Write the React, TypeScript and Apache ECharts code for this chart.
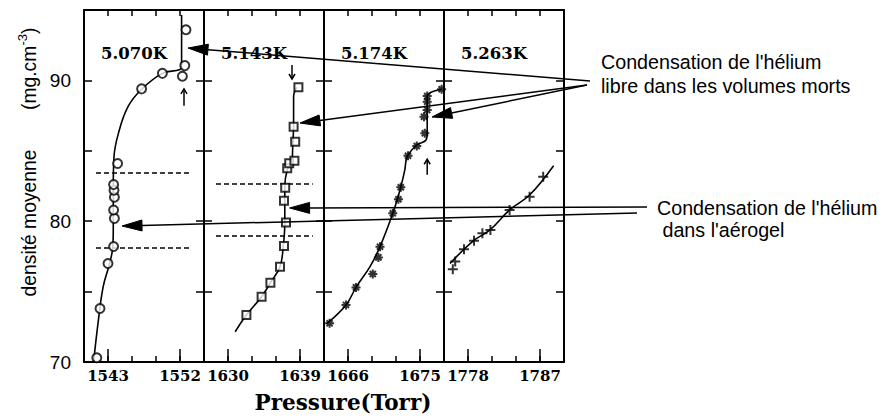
import React, { useEffect, useRef } from "react";
import * as echarts from "echarts";

// ---------- axes ----------
const panelMin = [1540, 1627, 1663, 1775];
const panelMax = [1555, 1642, 1678, 1790];
const panelTickLabels = [
  [1543, 1552],
  [1630, 1639],
  [1666, 1675],
  [1778, 1787],
];
const panelTemps = ["5.070K", "5.143K", "5.174K", "5.263K"];
const yTickLabels = [70, 80, 90];

// ---------- measured points ----------
const circles5070 = [
  [1541.6, 70.3], [1542.0, 73.8], [1543.0, 77.0], [1543.7, 78.2], [1543.8, 80.2],
  [1543.7, 80.8], [1543.8, 81.7], [1543.75, 82.2], [1543.7, 82.6], [1544.2, 84.1],
  [1547.2, 89.4], [1549.8, 90.5], [1552.3, 90.3], [1552.6, 91.05], [1552.75, 93.6],
];
const squares5143 = [
  [1632.3, 73.34], [1634.2, 74.64], [1635.3, 75.63], [1636.5, 76.77], [1637.0, 78.24],
  [1637.25, 79.9], [1637.0, 81.46], [1637.15, 82.38], [1637.4, 83.76], [1637.65, 84.11],
  [1638.3, 84.3], [1638.4, 85.65], [1638.2, 86.71], [1638.8, 89.51],
];
const stars5174 = [
  [1663.7, 72.75], [1665.75, 74.05], [1667.0, 75.3], [1669.1, 76.25], [1669.8, 77.43],
  [1670.0, 78.19], [1671.6, 80.56], [1672.3, 81.56], [1672.6, 82.41], [1673.5, 84.65],
  [1674.6, 85.34], [1675.6, 86.24], [1675.5, 87.42], [1675.9, 87.9], [1675.9, 88.49],
  [1675.9, 88.89], [1677.7, 89.37],
];
const crosses5263 = [
  [1776.1, 76.58], [1776.4, 77.13], [1777.5, 78.0], [1778.75, 78.62], [1779.8, 79.14],
  [1780.8, 79.38], [1783.2, 80.8], [1785.7, 81.74], [1787.4, 83.16],
];

// ---------- drawn curves ----------
const curve5070 = [
  [1541.2, 70.0], [1541.8, 72.98], [1542.4, 75.35], [1543.2, 77.0], [1543.6, 78.19],
  [1543.66, 79.6], [1543.66, 82.45], [1543.75, 84.58], [1544.3, 86.24], [1545.5, 88.13],
  [1547.2, 89.37], [1549.8, 90.5], [1552.0, 90.78], [1552.2, 91.1], [1552.2, 94.64],
];
const curve5143 = [
  [1630.9, 72.15], [1632.3, 73.34], [1634.2, 74.64], [1635.3, 75.63], [1636.5, 76.77],
  [1636.9, 78.19], [1637.1, 79.85], [1637.1, 82.45], [1637.4, 83.64], [1638.0, 84.23],
  [1638.1, 85.53], [1638.2, 86.71], [1638.2, 88.84], [1638.6, 89.51],
];
const curve5174 = [
  [1663.3, 72.7], [1665.75, 74.05], [1667.0, 75.3], [1668.75, 76.77], [1670.0, 78.19],
  [1671.6, 80.56], [1672.5, 82.22], [1673.1, 83.64], [1673.4, 84.58], [1674.6, 85.41],
  [1675.75, 85.77], [1675.9, 86.24], [1675.9, 88.85], [1677.7, 89.37],
];
const curve5263 = [
  [1775.75, 77.0], [1778.7, 78.62], [1780.75, 79.38], [1783.2, 80.8], [1785.7, 81.86],
  [1788.7, 83.94],
];

// ---------- dashed levels [panel, from, to, level] ----------
const dashLevels = [
  [0, 1541.5, 1553.5, 83.42],
  [0, 1541.5, 1553.5, 78.1],
  [1, 1628.5, 1640.6, 82.64],
  [1, 1628.5, 1640.6, 78.95],
];

// small vertical arrows [panel, P, from, to]
const smallArrows = [
  [0, 1552.5, 88.2, 89.4],
  [1, 1638.0, 91.1, 90.1],
  [2, 1675.9, 83.3, 84.4],
];

// annotation arrow tips [panel, P, value]
const freeTips = [
  [0, 1553.0, 92.3],
  [1, 1639.0, 86.97],
  [2, 1676.5, 87.4],
];
const gelTips = [
  [0, 1544.75, 79.66],
  [1, 1637.7, 80.94],
];

const freeText = ["Condensation de l'hélium", "libre dans les volumes morts"];
const gelText = ["Condensation de l'hélium", " dans l'aérogel"];

// ---------- layout ----------
const GRID_LEFT = 84;
const GRID_W = 120;
const GRID_TOP = 10;
const GRID_H = 352;
const SANS = "'Liberation Sans', Arial, Helvetica, sans-serif";
const SERIF = "'DejaVu Serif', serif";
const freeStarts = [[590, 81], [587, 85], [587, 85]];
const gelStarts = [[637, 213], [647, 207]];

const ASTERISK = "path://M5,0L5,10M0,5L10,5M1.6,1.6L8.4,8.4M8.4,1.6L1.6,8.4";
const PLUS = "path://M5,0L5,10M0,5L10,5";

const markerData = [circles5070, squares5143, stars5174, crosses5263];
const curveData = [curve5070, curve5143, curve5174, curve5263];

export default function App() {
  const ref = useRef<HTMLDivElement>(null);

  useEffect(() => {
    if (!ref.current) return;
    const chart = echarts.init(ref.current, null, { renderer: "svg" });

    const grids: any[] = [];
    const xAxes: any[] = [];
    const yAxes: any[] = [];
    const series: any[] = [];
    const tickStyle = { color: "#000", width: 1.5 };
    const frameStyle = { color: "#000", width: 2 };

    for (let i = 0; i < 4; i++) {
      grids.push({ left: GRID_LEFT + i * GRID_W, top: GRID_TOP, width: GRID_W, height: GRID_H });
      const labels = panelTickLabels[i];
      // bottom frame: short ticks every 3 Torr counted from min
      xAxes.push({
        gridIndex: i, type: "value", min: panelMin[i], max: panelMax[i], interval: 3,
        position: "bottom",
        axisLine: { show: true, onZero: false, lineStyle: frameStyle },
        axisTick: { show: true, inside: true, length: 6, lineStyle: tickStyle },
        axisLabel: { show: false },
        splitLine: { show: false },
      });
      // bottom: long ticks and labels at labelled values
      xAxes.push({
        gridIndex: i, type: "value", min: panelMin[i], max: panelMax[i],
        position: "bottom",
        axisLine: { show: false, onZero: false },
        axisTick: { show: true, inside: true, length: 13, customValues: labels, lineStyle: tickStyle },
        axisLabel: {
          show: true, customValues: labels, margin: 6, color: "#000",
          fontFamily: SERIF, fontWeight: "bold", fontSize: 15,
          formatter: (v: number) => String(Math.round(v)),
        },
        splitLine: { show: false },
      });
      // top frame
      xAxes.push({
        gridIndex: i, type: "value", min: panelMin[i], max: panelMax[i], interval: 3,
        position: "top",
        axisLine: { show: true, onZero: false, lineStyle: frameStyle },
        axisTick: { show: true, inside: true, length: 6, lineStyle: tickStyle },
        axisLabel: { show: false },
        splitLine: { show: false },
      });
      yAxes.push({
        gridIndex: i, type: "value", min: 70, max: 95, interval: 5, position: "left",
        axisLine: { show: true, onZero: false, lineStyle: frameStyle },
        axisTick: { show: true, inside: true, length: 8, lineStyle: tickStyle },
        axisLabel: i === 0
          ? { show: true, customValues: yTickLabels, margin: 13, color: "#000", fontFamily: SANS, fontSize: 19 }
          : { show: false },
        splitLine: { show: false },
      });
      yAxes.push({
        gridIndex: i, type: "value", min: 70, max: 95, interval: 5, position: "right",
        axisLine: { show: true, onZero: false, lineStyle: frameStyle },
        axisTick: { show: true, inside: true, length: 8, lineStyle: tickStyle },
        axisLabel: { show: false },
        splitLine: { show: false },
      });

      series.push({
        type: "line", xAxisIndex: i * 3, yAxisIndex: i * 2, data: curveData[i],
        smooth: 0.4, symbol: "none", silent: true,
        lineStyle: { color: "#000", width: 1.6 }, z: 2,
      });
    }

    dashLevels.forEach(([p, a, b, lv]) => {
      series.push({
        type: "line", xAxisIndex: p * 3, yAxisIndex: p * 2,
        data: [[a, lv], [b, lv]], symbol: "none", silent: true,
        lineStyle: { color: "#000", width: 1.6, type: [5, 3] }, z: 2,
      });
    });

    const symbols = ["emptyCircle", "emptyRect", ASTERISK, PLUS];
    const sizes = [9, 8, 9, 10];
    for (let i = 0; i < 4; i++) {
      const isPath = i >= 2;
      series.push({
        type: "scatter", xAxisIndex: i * 3, yAxisIndex: i * 2, data: markerData[i],
        symbol: symbols[i], symbolSize: sizes[i], silent: true, z: 3,
        itemStyle: isPath
          ? { color: "rgba(0,0,0,0)", borderColor: "#000", borderWidth: 2 }
          : { color: "#000", borderColor: "#000", borderWidth: 1.6 },
      });
    }

    chart.setOption({
      animation: false,
      backgroundColor: "#fff",
      grid: grids,
      xAxis: xAxes,
      yAxis: yAxes,
      series,
    });

    // ---------- overlay graphics ----------
    const toPx = (panel: number, p: number, v: number) =>
      chart.convertToPixel({ xAxisIndex: panel * 3, yAxisIndex: panel * 2 } as any, [p, v]) as number[];

    const g: any[] = [];
    const stroke = { stroke: "#000", lineWidth: 1.5, fill: null };

    const bigArrow = (from: number[], tip: number[]) => {
      const dx = tip[0] - from[0];
      const dy = tip[1] - from[1];
      const len = Math.hypot(dx, dy);
      const ux = dx / len, uy = dy / len;
      const hl = 20, hw = 5.5;
      const bx = tip[0] - ux * hl, by = tip[1] - uy * hl;
      g.push({ type: "line", z: 100, shape: { x1: from[0], y1: from[1], x2: bx, y2: by }, style: stroke });
      g.push({
        type: "polygon", z: 100,
        shape: { points: [[tip[0], tip[1]], [bx - uy * hw, by + ux * hw], [bx + uy * hw, by - ux * hw]] },
        style: { fill: "#000", stroke: "#000", lineWidth: 1 },
      });
    };
    freeTips.forEach(([p, x, v], k) => bigArrow(freeStarts[k], toPx(p, x, v)));
    gelTips.forEach(([p, x, v], k) => bigArrow(gelStarts[k], toPx(p, x, v)));

    smallArrows.forEach(([p, x, a, b]) => {
      const s = toPx(p, x, a);
      const e = toPx(p, x, b);
      const dir = e[1] > s[1] ? 1 : -1;
      g.push({ type: "line", z: 100, shape: { x1: s[0], y1: s[1], x2: e[0], y2: e[1] }, style: stroke });
      g.push({
        type: "polyline", z: 100,
        shape: { points: [[e[0] - 3, e[1] - dir * 5], [e[0], e[1]], [e[0] + 3, e[1] - dir * 5]] },
        style: stroke,
      });
    });

    panelTemps.forEach((t, i) => {
      g.push({
        type: "text", z: 100, x: GRID_LEFT + i * GRID_W + 50, y: 53,
        style: { text: t, align: "center", verticalAlign: "middle", font: `bold 16.5px ${SERIF}`, fill: "#000" },
      });
    });

    g.push({
      type: "text", z: 100, x: 343, y: 402,
      style: { text: "Pressure(Torr)", align: "center", verticalAlign: "middle", font: `bold 21.5px ${SERIF}`, fill: "#000" },
    });

    // y axis title (rotated)
    g.push({
      type: "text", z: 100, x: 29, y: 223, rotation: Math.PI / 2,
      style: { text: "densité moyenne", align: "center", verticalAlign: "middle", font: `19.3px ${SANS}`, fill: "#000" },
    });
    g.push({
      type: "text", z: 100, x: 29, y: 110, rotation: Math.PI / 2,
      style: { text: "(mg.cm", align: "left", verticalAlign: "middle", font: `19.3px ${SANS}`, fill: "#000" },
    });
    g.push({
      type: "text", z: 100, x: 22, y: 45.5, rotation: Math.PI / 2,
      style: { text: "-3", align: "left", verticalAlign: "middle", font: `13px ${SANS}`, fill: "#000" },
    });
    g.push({
      type: "text", z: 100, x: 29, y: 34, rotation: Math.PI / 2,
      style: { text: ")", align: "left", verticalAlign: "middle", font: `19.3px ${SANS}`, fill: "#000" },
    });

    // annotations
    freeText.forEach((t, k) => {
      g.push({
        type: "text", z: 100, x: 601, y: 62 + k * 24,
        style: { text: t, align: "left", verticalAlign: "middle", font: `19.7px ${SANS}`, fill: "#000" },
      });
    });
    gelText.forEach((t, k) => {
      g.push({
        type: "text", z: 100, x: 657, y: 208 + k * 22,
        style: { text: t, align: "left", verticalAlign: "middle", font: `19.7px ${SANS}`, fill: "#000" },
      });
    });

    chart.setOption({ graphic: g });

    return () => chart.dispose();
  }, []);

  return (
    <div
      ref={ref}
      style={{ position: "fixed", left: 0, top: 0, width: 884, height: 419, background: "#fff" }}
    />
  );
}
